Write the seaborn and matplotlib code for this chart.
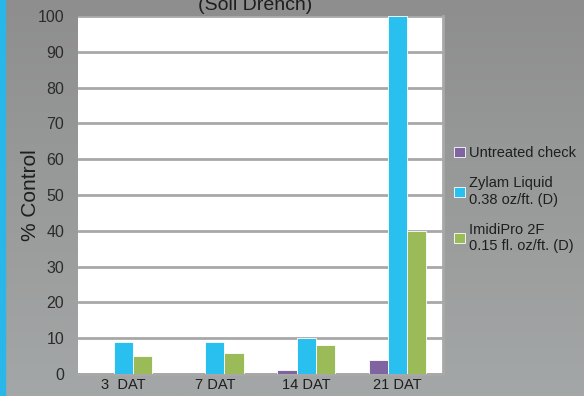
import numpy as np
import pandas as pd
import matplotlib
matplotlib.use('Agg')
import matplotlib.pyplot as plt
import seaborn as sns

# values
days = ['3  DAT', '7 DAT', '14 DAT', '21 DAT']
treatments = ['Untreated check', 'Zylam Liquid\n0.38 oz/ft. (D)', 'ImidiPro 2F\n0.15 fl. oz/ft. (D)']
untreated = [0, 0, 1, 4]
zylam = [9, 9, 10, 100]
imidipro = [5, 6, 8, 40]
yticks = list(range(0, 101, 10))

colors = ['#8064a2', '#29bfef', '#9bbb59']

df = pd.DataFrame({
    'day': days * 3,
    'treatment': [treatments[0]] * 4 + [treatments[1]] * 4 + [treatments[2]] * 4,
    'control': untreated + zylam + imidipro,
})

sns.set_style('white')
plt.rcParams['font.family'] = ['Liberation Sans', 'DejaVu Sans']

fig = plt.figure(figsize=(5.84, 3.96), dpi=100)

# gray gradient background + blue strip on the left
bg = fig.add_axes([0, 0, 1, 1], zorder=-10)
grad = np.linspace(0, 1, 256).reshape(-1, 1)
cmap = matplotlib.colors.LinearSegmentedColormap.from_list('bg', ['#a4a7a7', '#8e8e8e'])
bg.imshow(grad, aspect='auto', cmap=cmap, extent=[0, 1, 0, 1])
bg.axvspan(0, 5 / 584, color='#29b6e8')
bg.set_xlim(0, 1)
bg.set_ylim(1, 0)
bg.axis('off')

ax = fig.add_axes([0.1336, 0.0556, 0.625, 0.904])
sns.barplot(df, x='day', y='control', hue='treatment', palette=colors, saturation=1,
            width=0.63, gap=0, ax=ax, edgecolor='white', linewidth=0.6, zorder=3)

ax.set_facecolor('white')
ax.set_ylim(0, 100)
ax.set_yticks(yticks)
ax.yaxis.grid(True, color='#a8a8a8', linewidth=2, zorder=0)
ax.set_axisbelow(True)
for side in ['top', 'left']:
    ax.spines[side].set_visible(False)
ax.spines['right'].set_color('#a8a8a8')
ax.spines['right'].set_linewidth(2)
ax.spines['bottom'].set_color('#a8a8a8')
ax.spines['bottom'].set_linewidth(2)

ax.tick_params(axis='y', length=0, pad=10, labelsize=11.5, labelcolor='#2b2b2b')
ax.tick_params(axis='x', which='major', length=0, pad=3, labelsize=10.5, labelcolor='#1e1e1e')
ax.set_xticks([0.5, 1.5, 2.5], minor=True)
ax.tick_params(axis='x', which='minor', length=5, width=1, color='#1e1e1e', direction='out', pad=0)
ax.set_xlabel('')
ax.set_ylabel('% Control', fontsize=15, color='#1e1e1e')
ax.yaxis.set_label_coords(-0.105, 0.5)

handles, labels = ax.get_legend_handles_labels()
ax.legend(handles, labels, loc='upper left', bbox_to_anchor=(0.768, 0.645),
          bbox_transform=fig.transFigure, frameon=False, fontsize=10.5,
          handlelength=0.7, handleheight=0.7, handletextpad=0.3,
          labelspacing=1.1, labelcolor='#1e1e1e', borderaxespad=0)

fig.text(0.437, 0.985, '(Soil Drench)', ha='center', va='center', fontsize=14, color='#1e1e1e')

fig.savefig('out.png', dpi=100)
